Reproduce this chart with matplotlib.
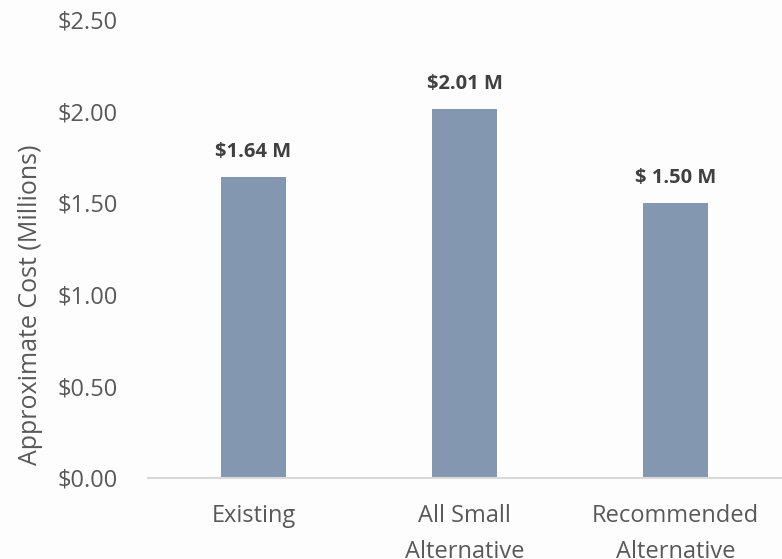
import matplotlib
matplotlib.use("Agg")
import matplotlib.pyplot as plt
from matplotlib.ticker import FuncFormatter, MultipleLocator

categories = ["Existing", "All Small\nAlternative", "Recommended\nAlternative"]
costs = [1.64, 2.01, 1.50]
value_labels = ["$1.64 M", "$2.01 M", "$ 1.50 M"]

plt.rcParams['font.family'] = ['Open Sans', 'DejaVu Sans']

fig = plt.figure(figsize=(7.82, 5.59), dpi=100, facecolor="#FDFDFD")
ax = fig.add_axes([148/782, (559-477.7)/559, (781-148)/782, (477.7-19.7)/559])
ax.set_facecolor("none")

x = list(range(len(categories)))
bars = ax.bar(x, costs, width=0.31, color="#8497B0", zorder=2)

for xi, v, lab in zip(x, costs, value_labels):
    ax.annotate(lab, (xi, v), xytext=(0, 25), textcoords="offset pixels",
                ha="center", va="center", fontsize=14.5, fontweight="bold",
                color="#404040")

ax.set_xlim(-0.5, 2.5)
ax.set_ylim(0, 2.5)
ax.yaxis.set_major_locator(MultipleLocator(0.5))
ax.yaxis.set_major_formatter(FuncFormatter(lambda v, p: f"${v:.2f}"))
ax.set_xticks(x)
ax.set_xticklabels(categories, linespacing=1.65)

for s in ["top", "right", "left"]:
    ax.spines[s].set_visible(False)
ax.spines["bottom"].set_color("#D9D9D9")
ax.spines["bottom"].set_linewidth(1.5)

ax.tick_params(axis="y", length=0, pad=22, labelsize=17, labelcolor="#595959")
ax.tick_params(axis="x", length=0, pad=19, labelsize=17, labelcolor="#595959")

fig.text(31/782, 1-305/559, "Approximate Cost (Millions)", rotation=90,
         ha="center", va="center", fontsize=18, color="#595959")

fig.savefig("out.png", dpi=100, facecolor=fig.get_facecolor())
